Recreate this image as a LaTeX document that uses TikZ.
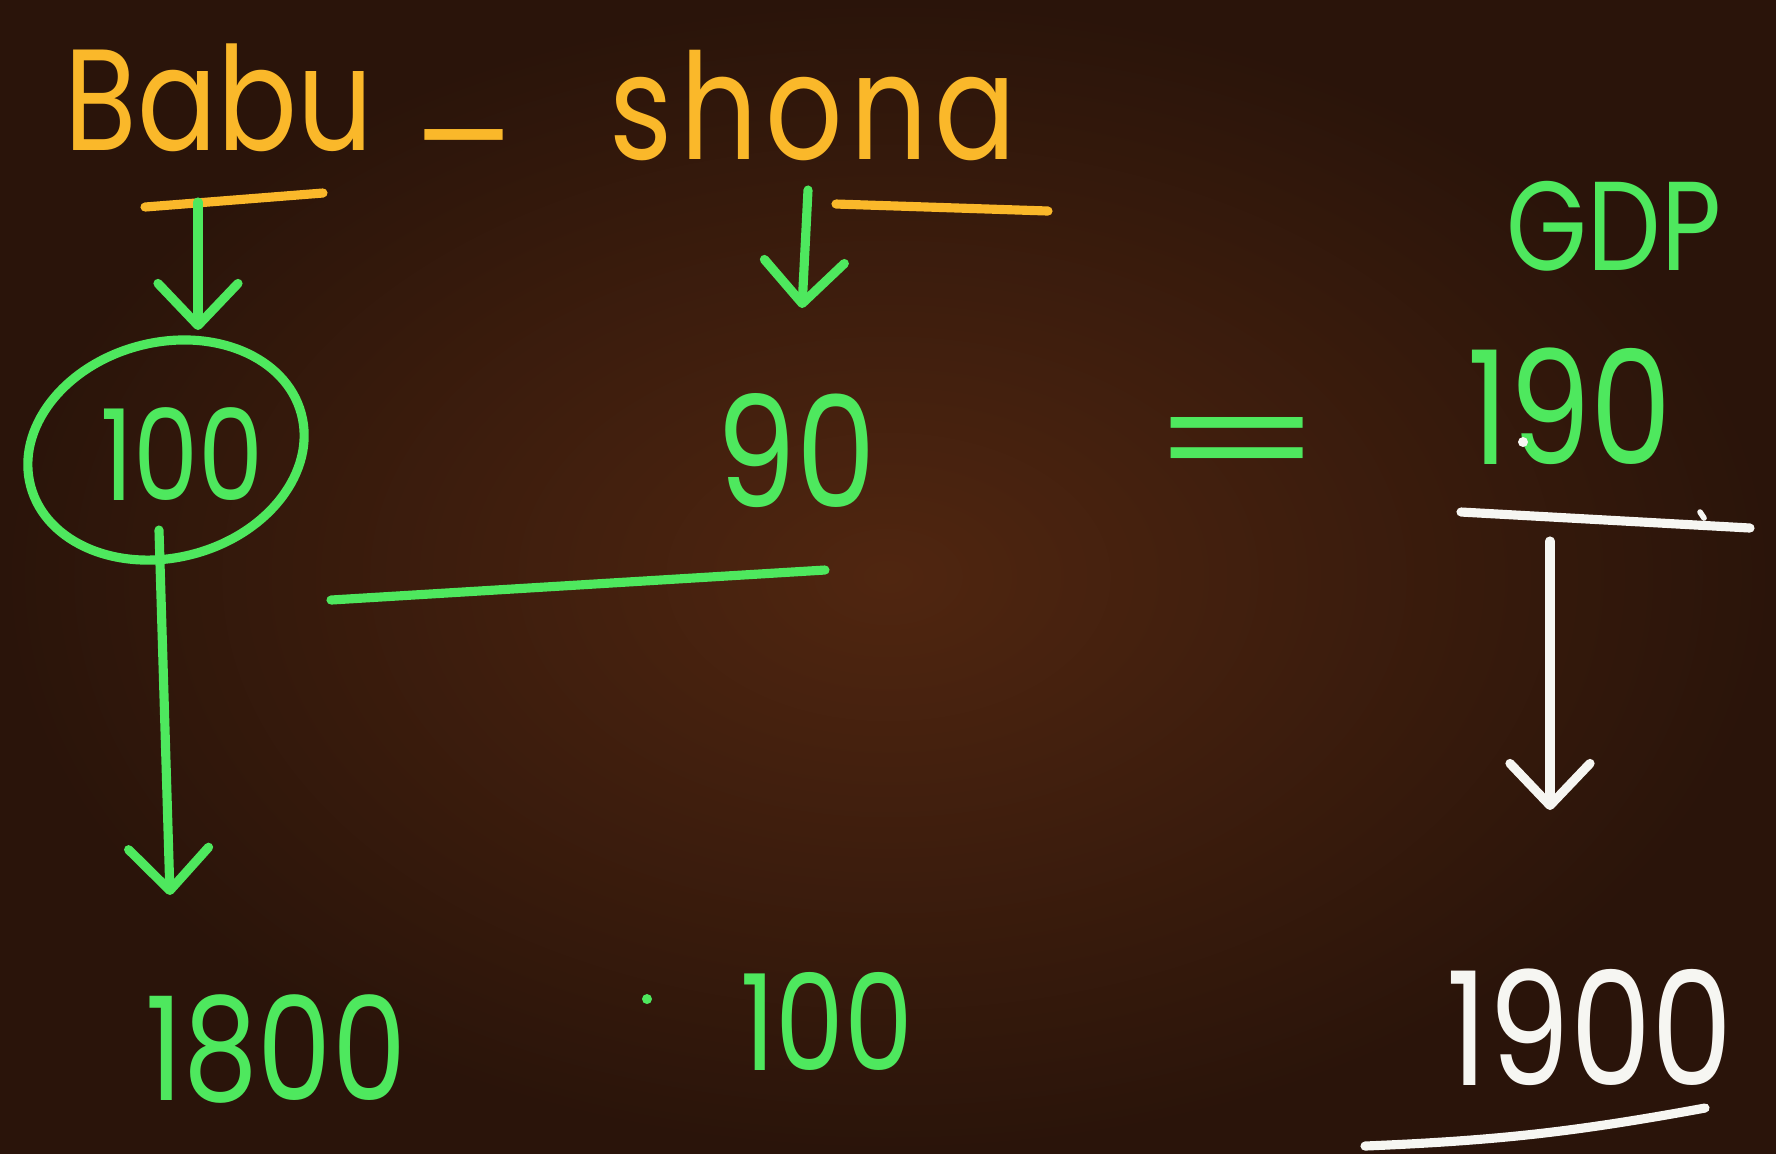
\documentclass[tikz,border=0pt]{standalone}
\usepackage{fontspec}
\setmainfont{Poppins}[FakeStretch=0.82]
\usepackage{tikz}
\usetikzlibrary{arrows.meta,shapes.geometric}
\definecolor{boardin}{RGB}{80,38,16}
\definecolor{boardout}{RGB}{42,20,10}
\definecolor{chalkorange}{RGB}{250,184,42}
\definecolor{chalkgreen}{RGB}{78,232,94}
\definecolor{chalkwhite}{RGB}{246,246,242}

\tikzset{
  stroke/.style={line width=2.6pt, line cap=round, line join=round},
  chalkarrow/.style={-{Straight Barb[length=0.42cm, width=0.8cm, round]}},
  hand/.style={inner sep=0pt, anchor=base},
}

\begin{document}
\begin{tikzpicture}[x=0.01cm, y=-0.01cm]
    \useasboundingbox (0,0) rectangle (1776,1153);
    \shade[inner color=boardin, outer color=boardout] (0,0) rectangle (1776,1153);

    % the two names
    \node[hand, anchor=base west, chalkorange, font=\fontsize{41}{48}\selectfont] (babu) at (64,150) {Babu};
    \node[hand, chalkorange, font=\fontsize{40}{48}\selectfont] (dash) at (468,150) {\raisebox{-0.26em}{\scalebox{1.7}[1]{-}}};
    \node[hand, anchor=base west, chalkorange, font=\fontsize{42}{50}\selectfont\addfontfeature{LetterSpace=5}] (shona) at (609,159) {shona};
    \node[hand, chalkgreen, font=\fontsize{36}{44}\selectfont] (gdp) at (1614,270) {GDP};

    \coordinate (ulA1) at (145,207);
    \coordinate (ulA2) at (323,193);
    \coordinate (ulB1) at (836,204);
    \coordinate (ulB2) at (1048,211);
    \draw[stroke, chalkorange] (ulA1) -- (ulA2);
    \draw[stroke, chalkorange] (ulB1) -- (ulB2);

    % first row
    \node[draw=chalkgreen, stroke, ellipse, minimum width=2.8cm, minimum height=2.15cm, rotate=15, inner sep=0pt] (ring) at (166,450) {};
    \node[hand, chalkgreen, font=\fontsize{36}{44}\selectfont] (hundred) at (182,500) {100};
    \node[hand, chalkgreen, font=\fontsize{44}{52}\selectfont] (ninety) at (796,507) {90};
    \node[chalkgreen, inner sep=0pt, font=\fontsize{40}{48}\selectfont] (eq) at (1237,453) {\scalebox{2.2}[1]{=}};
    \node[hand, chalkgreen, font=\fontsize{45}{52}\selectfont] (total) at (1570,464) {190};
    \fill[chalkwhite] (1523,442) circle[radius=5];

    \coordinate (babuTop) at (198,202);
    \coordinate (babuTip) at (198,330);
    \coordinate (shonaTop) at (808,190);
    \coordinate (shonaTip) at (802,308);
    \draw[stroke, chalkgreen, chalkarrow] (babuTop) -- (babuTip);
    \draw[stroke, chalkgreen, chalkarrow] (shonaTop) -- (shonaTip);

    \coordinate (barL) at (331,600);
    \coordinate (barR) at (825,570);
    \draw[stroke, chalkgreen] (barL) -- (barR);

    \coordinate (sumL) at (1461,512);
    \coordinate (sumR) at (1750,528);
    \draw[stroke, chalkwhite] (sumL) -- (sumR);
    \draw[stroke, chalkwhite, line width=1.6pt] (1700,512) -- (1704,518);

    % second row
    \node[hand, chalkgreen, font=\fontsize{41}{48}\selectfont] (bigA) at (276,1100) {1800};
    \fill[chalkgreen] (647,999) circle[radius=5];
    \node[hand, chalkgreen, font=\fontsize{38}{44}\selectfont] (hundredB) at (827,1070) {100};
    \node[hand, chalkwhite, font=\fontsize{45}{52}\selectfont] (sum) at (1590,1085) {1900};

    \coordinate (ringOut) at (159,530);
    \coordinate (ringTip) at (170,895);
    \draw[stroke, chalkgreen, chalkarrow] (ringOut) -- (ringTip);

    \coordinate (sumTop) at (1550,541);
    \coordinate (sumTip) at (1550,810);
    \draw[stroke, chalkwhite, chalkarrow] (sumTop) -- (sumTip);

    \coordinate (baseL) at (1365,1146);
    \coordinate (baseR) at (1705,1108);
    \draw[stroke, chalkwhite] (baseL) to[bend right=4] (baseR);
\end{tikzpicture}
\end{document}
